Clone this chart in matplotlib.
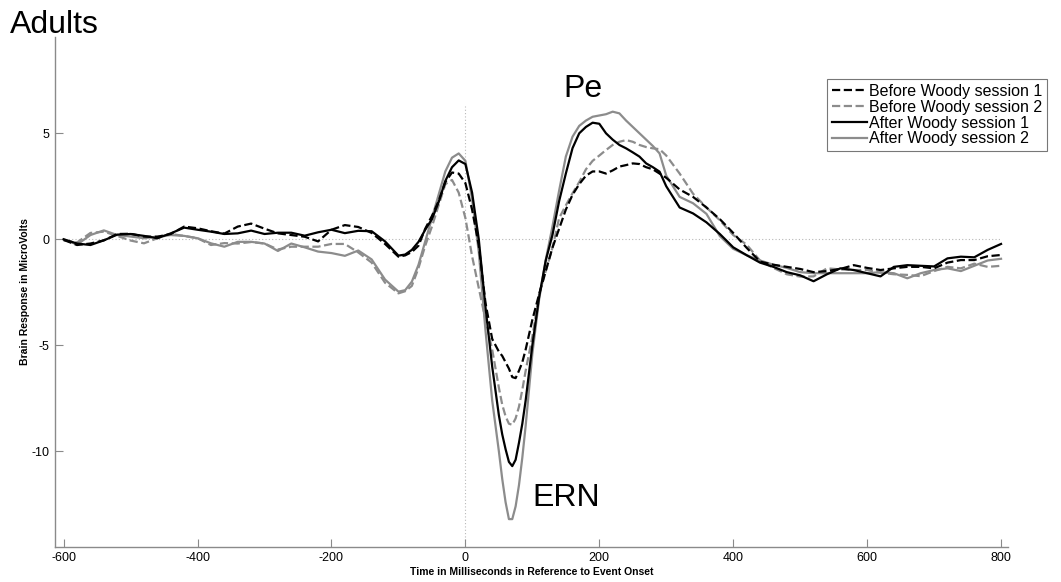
import matplotlib.pyplot as plt

plt.rcParams['font.family'] = ['Liberation Sans', 'DejaVu Sans']
plt.rcParams['axes.unicode_minus'] = False

times = [-600, -580, -560, -540, -520, -500, -480, -460, -440, -420,
         -400, -380, -360, -340, -320, -300, -280, -260, -240, -220,
         -200, -180, -160, -140, -120, -100, -90, -80, -70, -60,
         -50, -40, -30, -20, -10, 0, 10, 20, 30, 40,
         50, 55, 60, 65, 70, 75, 80, 85, 90, 100,
         110, 120, 130, 140, 150, 160, 170, 180, 190, 200,
         210, 220, 230, 240, 250, 260, 270, 280, 290, 300,
         320, 340, 360, 380, 400, 420, 440, 460, 480, 500,
         520, 540, 560, 580, 600, 620, 640, 660, 680, 700,
         720, 740, 760, 780, 800]

before_s1 = [-0.03, -0.27, -0.2, -0.05, 0.25, 0.26, 0.13, 0.12, 0.25, 0.6,
             0.52, 0.38, 0.27, 0.6, 0.74, 0.5, 0.28, 0.2, 0.12, -0.1,
             0.45, 0.67, 0.58, 0.3, -0.22, -0.82, -0.76, -0.6, -0.3, 0.5,
             1.1, 1.8, 2.7, 3.15, 3.1, 2.65, 1.4, -0.3, -3.0, -4.7,
             -5.3, -5.5, -5.8, -6.1, -6.5, -6.55, -6.2, -5.8, -5.2, -3.8,
             -2.6, -1.5, -0.4, 0.5, 1.4, 2.1, 2.6, 3.0, 3.2, 3.2,
             3.1, 3.25, 3.43, 3.5, 3.58, 3.55, 3.4, 3.3, 3.1, 2.9,
             2.35, 2.0, 1.5, 0.95, 0.3, -0.4, -1.05, -1.2, -1.3, -1.4,
             -1.55, -1.5, -1.4, -1.22, -1.35, -1.45, -1.37, -1.3, -1.3, -1.37,
             -1.1, -0.98, -0.98, -0.8, -0.74]

before_s2 = [-0.05, -0.15, 0.3, 0.36, 0.16, -0.06, -0.19, 0.05, 0.25, 0.16,
             0.05, -0.27, -0.18, -0.2, -0.13, -0.2, -0.48, -0.35, -0.35, -0.35,
             -0.22, -0.22, -0.62, -1.1, -2.05, -2.55, -2.45, -2.2, -1.35, -0.3,
             0.6, 1.6, 2.6, 2.8, 2.2, 1.0, -0.8, -2.3, -3.8, -5.2,
             -7.0, -7.8, -8.35, -8.7, -8.75, -8.45, -7.9, -7.1, -6.2, -4.6,
             -2.6, -1.5, -0.4, 1.0, 1.6, 2.17, 2.7, 3.3, 3.7, 3.95,
             4.21, 4.45, 4.6, 4.68, 4.6, 4.45, 4.35, 4.29, 4.25, 3.95,
             3.1, 2.15, 1.5, 0.9, 0.2, -0.25, -1.0, -1.35, -1.65, -1.76,
             -1.75, -1.37, -1.42, -1.45, -1.45, -1.58, -1.65, -1.68, -1.74, -1.5,
             -1.3, -1.37, -1.15, -1.3, -1.25]

after_s1 = [0.0, -0.2, -0.27, -0.05, 0.22, 0.25, 0.16, 0.05, 0.28, 0.55,
            0.45, 0.36, 0.25, 0.28, 0.41, 0.25, 0.31, 0.31, 0.17, 0.33,
            0.45, 0.29, 0.4, 0.38, -0.1, -0.77, -0.72, -0.5, -0.12, 0.45,
            0.95, 1.75, 2.75, 3.4, 3.72, 3.55, 2.2, 0.0, -3.2, -6.0,
            -8.3, -9.2, -9.9, -10.5, -10.7, -10.4, -9.6, -8.7, -7.6, -5.0,
            -2.75, -1.0, 0.2, 1.8, 3.1, 4.3, 5.0, 5.3, 5.5, 5.45,
            5.0, 4.7, 4.45, 4.29, 4.1, 3.9, 3.58, 3.4, 3.19, 2.5,
            1.5, 1.22, 0.8, 0.25, -0.38, -0.75, -1.1, -1.3, -1.55, -1.7,
            -1.98, -1.65, -1.37, -1.45, -1.6, -1.75, -1.3, -1.22, -1.25, -1.28,
            -0.9, -0.82, -0.85, -0.5, -0.22]

after_s2 = [0.0, -0.25, 0.2, 0.42, 0.2, 0.13, 0.05, 0.13, 0.2, 0.16,
            0.05, -0.19, -0.35, -0.12, -0.12, -0.2, -0.55, -0.2, -0.38, -0.58,
            -0.65, -0.78, -0.53, -0.95, -1.9, -2.47, -2.4, -2.0, -1.2, -0.1,
            1.0, 2.1, 3.2, 3.85, 4.05, 3.7, 1.9, -0.6, -4.3, -7.6,
            -10.0, -11.3, -12.4, -13.2, -13.2, -12.6, -11.6, -10.3, -8.8, -5.4,
            -2.86, -0.97, 0.6, 2.3, 3.9, 4.84, 5.35, 5.6, 5.78, 5.84,
            5.9, 6.02, 5.94, 5.6, 5.3, 5.0, 4.7, 4.4, 4.05, 3.0,
            2.0, 1.7, 1.2, 0.15, -0.45, -0.75, -1.0, -1.2, -1.35, -1.55,
            -1.6, -1.6, -1.6, -1.6, -1.6, -1.55, -1.6, -1.84, -1.6, -1.45,
            -1.37, -1.5, -1.25, -1.0, -0.92]

labels = ['Before Woody session 1', 'Before Woody session 2',
          'After Woody session 1', 'After Woody session 2']
xticks = [-600, -400, -200, 0, 200, 400, 600, 800]
yticks = [-10, -5, 0, 5]

black = '#000000'
grey = '#8c8c8c'
axis_grey = '#8a8a8a'

fig = plt.figure(figsize=(10.61, 5.82), dpi=100)
ax = fig.add_axes([0.0518, 0.0607, 0.898, 0.876])
ax.set_xlim(-613, 810)
ax.set_ylim(-14.5, 9.55)

# dotted reference lines at zero
ax.hlines(0, -613, times[-1], colors='#b8b8b8', linestyles=(0, (1, 2)), lw=0.8, zorder=1)
ax.vlines(0, -14.5, 6.3, colors='#b8b8b8', linestyles=(0, (1, 2)), lw=0.8, zorder=1)

l_b2, = ax.plot(times, before_s2, color=grey, ls='--', lw=1.6, zorder=2)
l_a2, = ax.plot(times, after_s2, color=grey, ls='-', lw=1.6, zorder=3)
l_b1, = ax.plot(times, before_s1, color=black, ls='--', lw=1.6, zorder=4)
l_a1, = ax.plot(times, after_s1, color=black, ls='-', lw=1.6, zorder=5)

ax.text(175, 7.1, 'Pe', fontsize=23, ha='center', va='center')
ax.text(150, -12.2, 'ERN', fontsize=23, ha='center', va='center')

for side in ['top', 'right']:
    ax.spines[side].set_visible(False)
for side in ['left', 'bottom']:
    ax.spines[side].set_color(axis_grey)
    ax.spines[side].set_linewidth(1.0)

ax.set_xticks(xticks)
ax.set_yticks(yticks)
ax.tick_params(direction='in', length=6, color=axis_grey, labelsize=9, pad=4)

ax.set_xlabel('Time in Milliseconds in Reference to Event Onset',
              fontsize=7.5, fontweight='bold', labelpad=2)
ax.set_ylabel('Brain Response in MicroVolts', fontsize=7.5, fontweight='bold', labelpad=1)

leg = fig.legend([l_b1, l_b2, l_a1, l_a2], labels, loc='upper right',
                 bbox_to_anchor=(0.987, 0.864), fontsize=11.5, frameon=True,
                 fancybox=False, labelspacing=0.05, handlelength=2.2,
                 handletextpad=0.15, borderpad=0.3, borderaxespad=0)
leg.get_frame().set_edgecolor('#555555')
leg.get_frame().set_linewidth(0.8)

fig.text(0.009, 0.943, 'Adults', fontsize=23, ha='left', va='baseline')

fig.savefig('out.png', dpi=100)
